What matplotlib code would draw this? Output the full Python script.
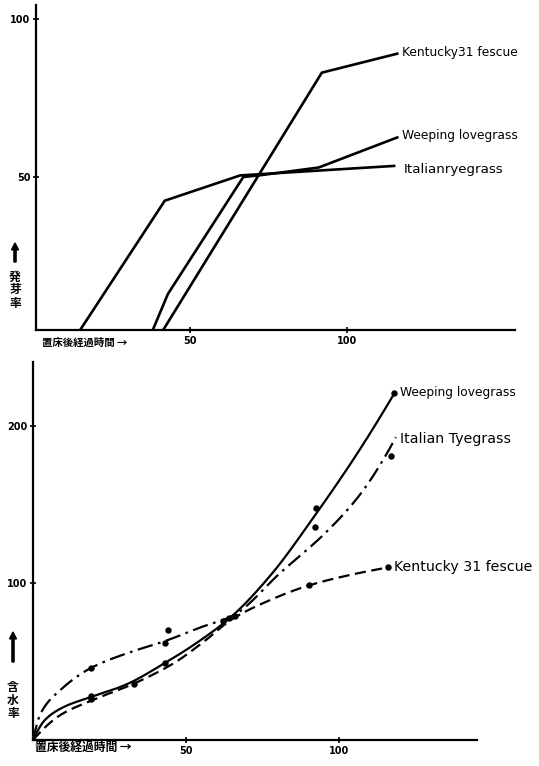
import numpy as np
import matplotlib
matplotlib.use("Agg")
import matplotlib.pyplot as plt

plt.rcParams['font.family'] = ['DejaVu Sans', 'Noto Sans CJK JP']

W, H = 539, 766

# ---- germination rate (%) vs hours after placement: broken-line segments ----
germ_italian_x = [14, 42, 66, 115]
germ_italian_y = [0, 42.5, 50.5, 53.5]
germ_weeping_x = [37.5, 43, 67, 72, 91, 116]
germ_weeping_y = [0, 13, 50, 50.5, 53, 62.5]
germ_kentucky_x = [40.5, 92, 116]
germ_kentucky_y = [0, 83, 89]
germ_labels = ["Kentucky31 fescue", "Weeping lovegrass", "Italianryegrass"]

# ---- moisture content (%) vs hours after placement: smooth curves ----
mc_weeping_x = [0, 4, 10, 19, 30, 43, 55, 65, 78, 92, 106, 118]
mc_weeping_y = [0, 13, 21, 27.5, 35, 49, 64, 79, 106, 143, 183, 221]
mc_italian_x = [0, 2.5, 9, 19, 31, 43, 55, 65, 81, 96, 107, 118.5]
mc_italian_y = [0, 17, 32, 46, 55.5, 63, 72, 79, 107, 133, 157, 193]
mc_kentucky_x = [0, 9, 19.5, 33, 46, 56, 65, 76, 90, 103, 116]
mc_kentucky_y = [0, 16, 25.5, 36, 49, 63, 77, 88, 98.5, 105, 110]

pts_weeping_x = [19, 43, 62, 92.5, 118]
pts_weeping_y = [28, 49, 76, 148, 221]
pts_italian_x = [19, 44, 43, 66, 92, 117]
pts_italian_y = [46, 70, 62, 79, 136, 181]
pts_kentucky_x = [19, 33, 64, 90, 116]
pts_kentucky_y = [26, 36, 78, 99, 110]
mc_labels = ["Weeping lovegrass", "Italian Tyegrass", "Kentucky 31 fescue"]


def pchip(xs, ys, n=400):
    """Monotone piecewise-cubic (Fritsch-Carlson) curve through the knots."""
    x = np.asarray(xs, float)
    y = np.asarray(ys, float)
    h = np.diff(x)
    d = np.diff(y) / h
    m = np.zeros_like(x)
    for k in range(1, len(x) - 1):
        if d[k - 1] * d[k] > 0:
            w1 = 2 * h[k] + h[k - 1]
            w2 = h[k] + 2 * h[k - 1]
            m[k] = (w1 + w2) / (w1 / d[k - 1] + w2 / d[k])
    m[0] = max(0.0, ((2 * h[0] + h[1]) * d[0] - h[0] * d[1]) / (h[0] + h[1]))
    m[-1] = max(0.0, ((2 * h[-1] + h[-2]) * d[-1] - h[-1] * d[-2]) / (h[-1] + h[-2]))
    xx = np.linspace(x[0], x[-1], n)
    idx = np.clip(np.searchsorted(x, xx) - 1, 0, len(x) - 2)
    t = (xx - x[idx]) / h[idx]
    h00 = 2 * t ** 3 - 3 * t ** 2 + 1
    h10 = t ** 3 - 2 * t ** 2 + t
    h01 = -2 * t ** 3 + 3 * t ** 2
    h11 = t ** 3 - t ** 2
    yy = h00 * y[idx] + h10 * h[idx] * m[idx] + h01 * y[idx + 1] + h11 * h[idx] * m[idx + 1]
    return xx, yy


def box(l, r, t, b):
    return [l / W, 1 - b / H, (r - l) / W, (b - t) / H]


def fx(px):
    return px / W


def fy(py):
    return 1 - py / H


fig = plt.figure(figsize=(W / 100, H / 100), dpi=100)
fig.patch.set_facecolor("white")


def style_axes(ax):
    for s in ("top", "right"):
        ax.spines[s].set_visible(False)
    for s in ("left", "bottom"):
        ax.spines[s].set_linewidth(1.6)
    ax.tick_params(direction="inout", length=4, width=1.2, pad=2, labelsize=7)
    for lbl in ax.get_xticklabels() + ax.get_yticklabels():
        lbl.set_fontweight("bold")


# ---------------- top panel ----------------
ax1 = fig.add_axes(box(36, 515, 5, 330))
lw = 1.9
for xs, ys in ((germ_italian_x, germ_italian_y),
               (germ_weeping_x, germ_weeping_y),
               (germ_kentucky_x, germ_kentucky_y)):
    ax1.plot(xs, ys, color="black", lw=lw, solid_joinstyle="miter")
ax1.set_xlim(1, 153.5)
ax1.set_ylim(1.6, 104.4)
ax1.set_xticks([50, 100])
ax1.set_yticks([50, 100])
style_axes(ax1)

ax1.text(germ_kentucky_x[-1] + 1.5, germ_kentucky_y[-1] + 0.3, germ_labels[0],
         ha="left", va="center", fontsize=8.8)
ax1.text(germ_weeping_x[-1] + 1.5, germ_weeping_y[-1] + 0.5, germ_labels[1],
         ha="left", va="center", fontsize=8.8)
ax1.text(germ_italian_x[-1] + 3, germ_italian_y[-1] - 1.0, germ_labels[2],
         ha="left", va="center", fontsize=9.6)

fig.text(fx(42), fy(343), "置床後経過時間 →", ha="left", va="center",
         fontsize=7.5, fontweight="bold", family=["Noto Sans CJK JP", "DejaVu Sans"])
fig.text(fx(15), fy(290), "発\n芽\n率", ha="center", va="center", linespacing=1.0,
         fontsize=8.5, fontweight="bold", family=["Noto Sans CJK JP"])
fig.patches.append(matplotlib.patches.FancyArrow(
    fx(15), fy(262), 0, (262 - 243) / H, width=0.004, head_width=0.013,
    head_length=0.009, length_includes_head=True, color="black",
    transform=fig.transFigure, figure=fig))

# ---------------- bottom panel ----------------
ax2 = fig.add_axes(box(33, 477, 362, 740))
sx, sy = pchip(mc_weeping_x, mc_weeping_y)
ax2.plot(sx, sy, color="black", lw=1.6)
sx, sy = pchip(mc_italian_x, mc_italian_y)
ax2.plot(sx, sy, color="black", lw=1.6, dashes=(7, 2.5, 1.2, 2.5))
sx, sy = pchip(mc_kentucky_x, mc_kentucky_y)
ax2.plot(sx, sy, color="black", lw=1.6, dashes=(5, 2.5))
ax2.plot(pts_weeping_x, pts_weeping_y, "o", color="black", ms=3.6)
ax2.plot(pts_italian_x, pts_italian_y, "o", color="black", ms=3.6)
ax2.plot(pts_kentucky_x, pts_kentucky_y, "o", color="black", ms=3.6)
ax2.set_xlim(0, 145)
ax2.set_ylim(0, 241)
ax2.set_xticks([50, 100])
ax2.set_yticks([100, 200])
style_axes(ax2)

ax2.text(mc_weeping_x[-1] + 2, mc_weeping_y[-1] + 0.5, mc_labels[0],
         ha="left", va="center", fontsize=8.8)
ax2.text(mc_italian_x[-1] + 1.5, mc_italian_y[-1] - 1, mc_labels[1],
         ha="left", va="center", fontsize=10.2)
ax2.text(mc_kentucky_x[-1] + 2, mc_kentucky_y[-1] + 0.5, mc_labels[2],
         ha="left", va="center", fontsize=10.2)

fig.text(fx(35), fy(747), "置床後経過時間 →", ha="left", va="center",
         fontsize=8.5, fontweight="bold", family=["Noto Sans CJK JP", "DejaVu Sans"])
fig.text(fx(13), fy(700), "含\n水\n率", ha="center", va="center", linespacing=1.0,
         fontsize=8.5, fontweight="bold", family=["Noto Sans CJK JP"])
fig.patches.append(matplotlib.patches.FancyArrow(
    fx(13), fy(662), 0, (662 - 632) / H, width=0.004, head_width=0.013,
    head_length=0.009, length_includes_head=True, color="black",
    transform=fig.transFigure, figure=fig))

fig.savefig("out.png", dpi=100, facecolor="white")
